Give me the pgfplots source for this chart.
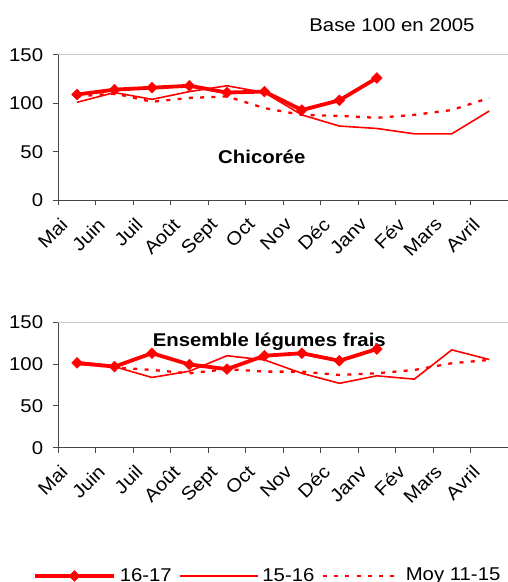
\documentclass[border=0pt]{standalone}
\usepackage{pgfplots}
\pgfplotsset{compat=1.18}
\usepackage{fontspec}
\setmainfont{Liberation Sans}[FakeStretch=1.1]
\definecolor{axgray}{RGB}{70,70,70}
\definecolor{bordergray}{RGB}{200,200,200}

\pgfplotstableread{
x a b c
0 109 101 107
1 114 111 110
2 116 104 101.5
3 118 112 105.5
4 111 118 107
5 112 111 95
6 93 88 88
7 103 76.5 87
8 126 74 85
9 nan 68.5 88
10 nan 68.5 93
11 nan 92 105.5
}\chic

\pgfplotstableread{
x a b c
0 101.5 99.5 101
1 97 97 96
2 113 84 93
3 99.5 91.5 89
4 94 110 94
5 110 105 91
6 113 89 91
7 104 77 87
8 118 86 89
9 nan 82 93
10 nan 117 101
11 nan 105.5 105
}\legu

\pgfplotsset{
  mystyle/.style={
    scale only axis, width=449.7pt,
    xmin=-0.5, xmax=11.5, ymin=0, ymax=150,
    ytick={0,50,100,150},
    xtick={-0.5,0.5,...,10.5},
    xticklabels={Mai,Juin,Juil,Août,Sept,Oct,Nov,Déc,Janv,Fév,Mars,Avril},
    axis x line*=bottom, axis y line*=left,
    axis line style={axgray, line width=0.9pt},
    tick align=outside, major tick length=5pt,
    tick style={axgray, line width=0.9pt},
    xticklabel style={xshift=1pt, yshift=-11pt, rotate=45, anchor=north east, inner sep=0pt},
    yticklabel style={anchor=east, inner sep=0pt, xshift=-10pt},
    /pgf/number format/assume math mode=true,
    unbounded coords=jump,
    clip=false,
  },
  s1/.style={red, line width=3.8pt, mark=square*, mark size=3.8pt,
    mark options={solid, rotate=45, line width=0.5pt},
    legend image code/.code={\draw[mark repeat=2, mark phase=2, ##1] plot coordinates {(0pt,0pt) (39.5pt,0pt) (79pt,0pt)};}},
  s2/.style={red, line width=1.6pt,
    legend image code/.code={\draw[##1] (0pt,0pt) -- (78pt,0pt);}},
  s3/.style={red, line width=2.3pt, dash pattern=on 4pt off 7.3pt,
    legend image code/.code={\draw[##1] (0pt,0pt) -- (78pt,0pt);}},
}

\begin{document}
\begin{tikzpicture}[font=\fontsize{18.5}{21}\selectfont]
\fontsize{18.5}{21}\selectfont
\useasboundingbox (0pt,0pt) rectangle (508pt,582pt);

\begin{axis}[mystyle, at={(58.3pt,381.7pt)}, anchor=south west, height=145.6pt]
\draw[bordergray, line width=1pt] (rel axis cs:0,1) -- (rel axis cs:1,1) -- (rel axis cs:1,0);
\addplot[s3] table[x=x,y=c] {\chic};
\addplot[s2] table[x=x,y=b] {\chic};
\addplot[s1] table[x=x,y=a] {\chic};
\node at (axis cs:4.93,44.6) {\bfseries Chicorée};
\end{axis}

\begin{axis}[mystyle, at={(58.3pt,134.3pt)}, anchor=south west, height=125.4pt,
  legend columns=3,
  legend style={draw=none, fill=none, inner sep=0pt, outer sep=0pt,
    at={(-0.0563,-1.0231)}, anchor=west, legend cell align=left,
    nodes={inner sep=0pt},
    /tikz/every odd column/.append style={column sep=4pt},
    /tikz/every even column/.append style={column sep=7pt}},
  ]
\draw[bordergray, line width=1pt] (rel axis cs:0,1) -- (rel axis cs:1,1) -- (rel axis cs:1,0);
\addplot[s3, forget plot] table[x=x,y=c] {\legu};
\addplot[s2, forget plot] table[x=x,y=b] {\legu};
\addplot[s1] table[x=x,y=a] {\legu};
\addlegendentry{16-17}
\addlegendimage{s2}
\addlegendentry{15-16}
\addlegendimage{s3}
\addlegendentry{Moy 11-15}
\node at (axis cs:5.13,126.8) {\bfseries Ensemble légumes frais};
\end{axis}

\node at (392pt,556.7pt) {Base 100 en 2005};
\end{tikzpicture}
\end{document}
